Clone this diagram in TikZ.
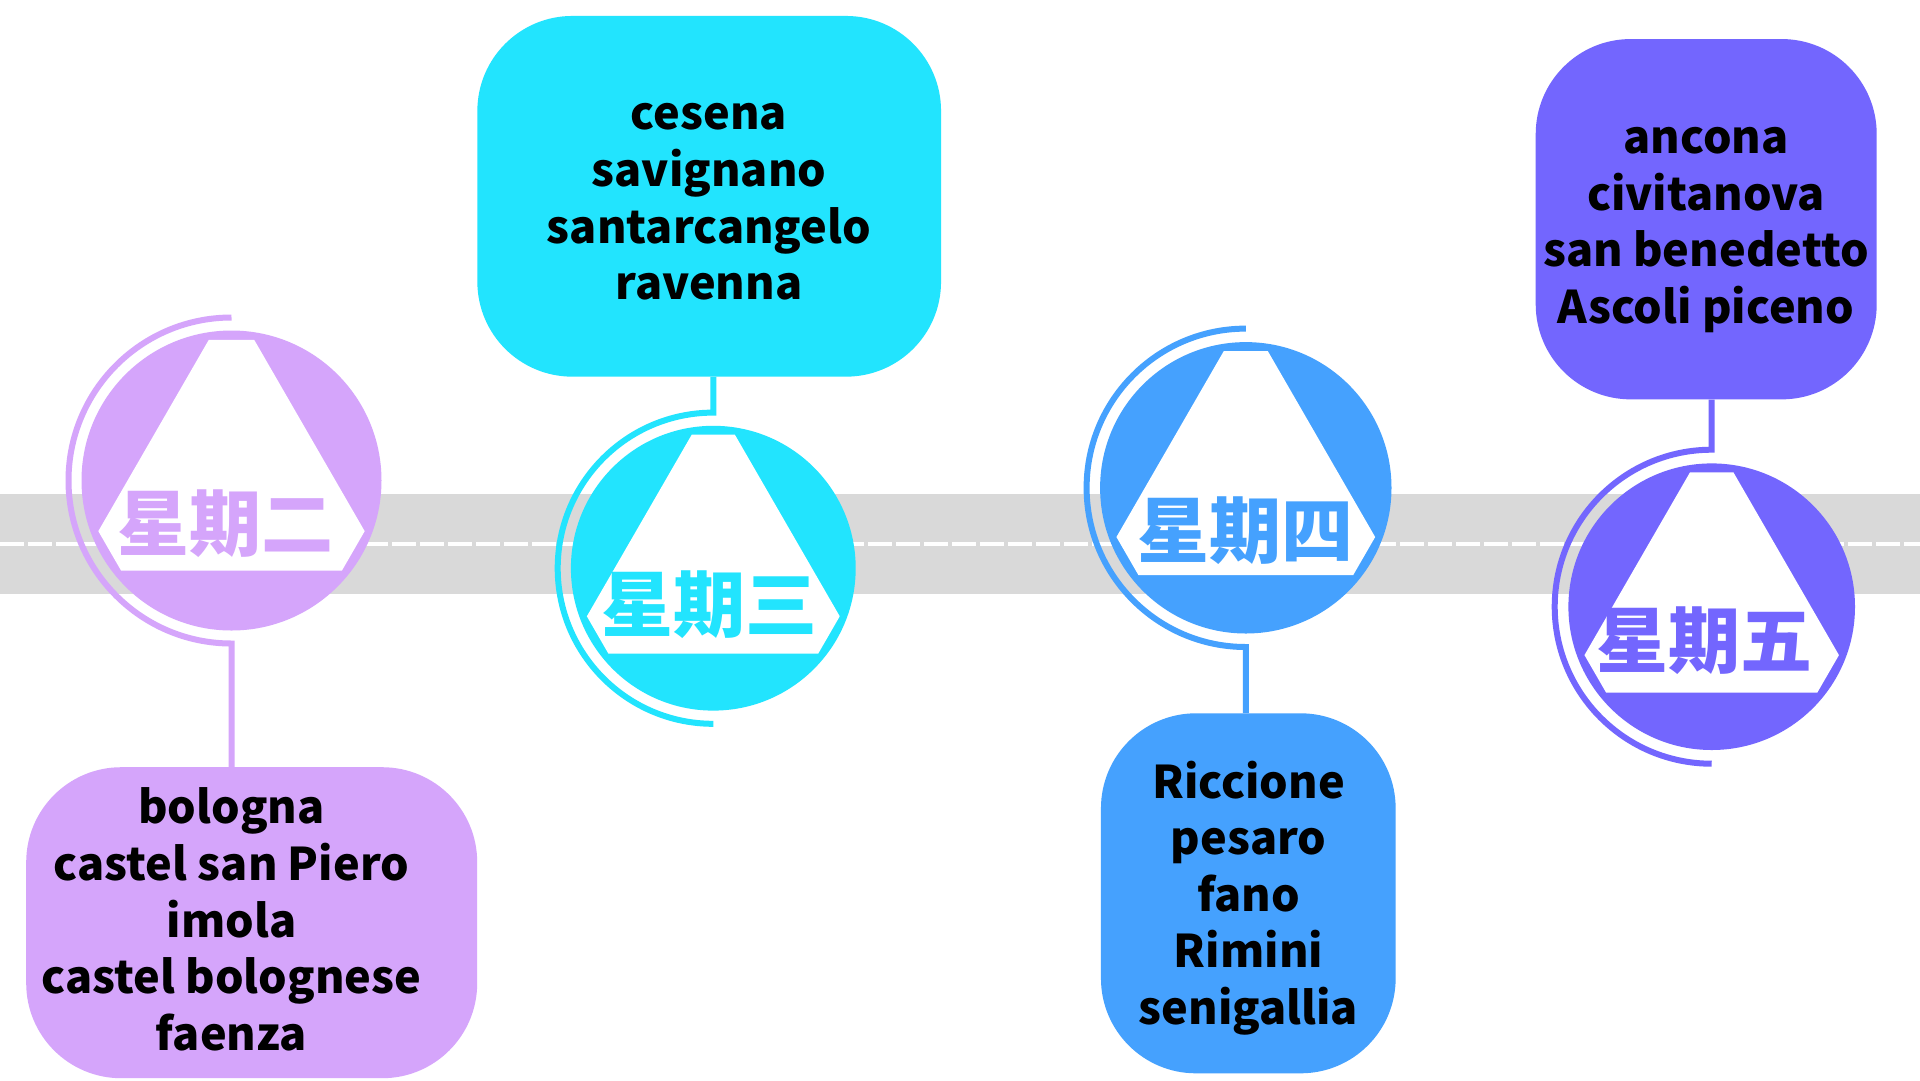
\documentclass[tikz,border=0pt]{standalone}
\usepackage{fontspec}
\setmainfont{Noto Sans CJK SC}
\usetikzlibrary{calc}
\definecolor{cA}{HTML}{D5A5FB}
\definecolor{cB}{HTML}{22E4FE}
\definecolor{cC}{HTML}{45A1FE}
\definecolor{cD}{HTML}{7366FE}
\definecolor{bandgray}{HTML}{D9D9D9}
\newcommand\daymark[6]{% name, center, radius, colour, label, label position
  \node[disc=#4, minimum size=2*#3pt] (#1) at #2 {};
  \fill[white] ($(#1.center)+(20.83:{0.95*#3})$) -- ($(#1.center)+(39.17:{0.95*#3})$)
    -- ($(#1.center)+(140.83:{0.95*#3})$) -- ($(#1.center)+(159.17:{0.95*#3})$)
    -- ($(#1.center)+(260.83:{0.95*#3})$) -- ($(#1.center)+(279.17:{0.95*#3})$) -- cycle;
  \node[daylabel=#4] (#1t) at #6 {#5};
}
\begin{document}
\begin{tikzpicture}[x=1pt,y=-1pt,
  disc/.style={circle, fill=#1, inner sep=0pt, draw=none},
  daylabel/.style={text=#1, font=\fontsize{72}{80}\selectfont\bfseries, inner sep=0pt},
  ring/.style={draw=#1, line width=6pt},
  card/.style={fill=#1, rounded corners=95pt, inner sep=0pt, draw=none},
  cardtext/.style={font=\fontsize{45}{56.6}\selectfont\bfseries, align=center, inner sep=0pt, text=black},
]
\useasboundingbox (0,0) rectangle (1920,1080);
\fill[white] (0,0) rectangle (1920,1080);
\fill[bandgray] (0,494) rectangle (1920,594);
\draw[white, line width=4pt, dash pattern=on 24pt off 4pt] (0,544) -- (1920,544);

% boxes
\node[card=cA, minimum width=451pt, minimum height=311pt] (b1) at (251.7,922.7) {};
\node[card=cB, minimum width=463.7pt, minimum height=360.7pt] (b2) at (709.2,196.3) {};
\node[card=cC, minimum width=294.7pt, minimum height=360pt] (b3) at (1248.3,893.3) {};
\node[card=cD, minimum width=341pt, minimum height=360.3pt] (b4) at (1706.2,219.2) {};

\node[cardtext] (b1t) at (231.5,919.5) {bologna\\castel san Piero\\imola\\castel bolognese\\faenza};
\node[cardtext] (b2t) at (709,202) {cesena\\savignano\\santarcangelo\\ravenna};
\node[cardtext] (b3t) at (1248.5,898) {Riccione\\pesaro\\fano\\Rimini\\senigallia};
\node[cardtext] (b4t) at (1706,230) {ancona\\civitanova\\san benedetto\\Ascoli piceno};

% day markers
\daymark{c1}{(231.5,480.5)}{150}{cA}{星期二}{(225,523.5)}
\daymark{c2}{(713.3,568.2)}{142.4}{cB}{星期三}{(709,604.5)}
\daymark{c3}{(1245.8,487.8)}{145.7}{cC}{星期四}{(1245.8,531)}
\daymark{c4}{(1711.7,606.7)}{143.3}{cD}{星期五}{(1704,641)}

% rings and connectors
\draw[ring=cA] (c1.center) ++(270:163) arc[start angle=270, end angle=90, radius=163] -- (b1.north -| c1.center);
\draw[ring=cB] (c2.center) ++(90:155.6) arc[start angle=90, end angle=270, radius=155.6] -- (b2.south -| c2.center);
\draw[ring=cC] (c3.center) ++(270:159.2) arc[start angle=270, end angle=90, radius=159.2] -- (b3.north -| c3.center);
\draw[ring=cD] (c4.center) ++(90:157) arc[start angle=90, end angle=270, radius=157] -- (b4.south -| c4.center);
\end{tikzpicture}
\end{document}
